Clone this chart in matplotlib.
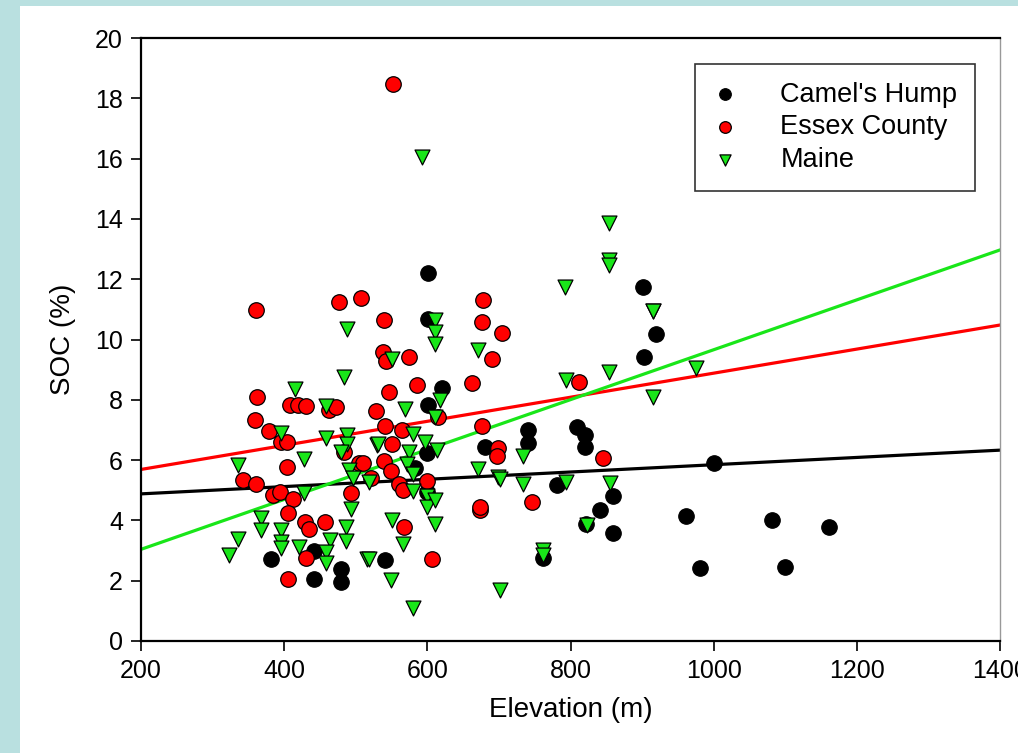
import matplotlib
matplotlib.use("Agg")
import matplotlib.pyplot as plt
from matplotlib.patches import Rectangle

plt.rcParams["font.family"] = ["Liberation Sans", "DejaVu Sans"]

# Camel's Hump
ch_elev = [381, 441, 441, 480, 480, 541, 583, 600, 600, 601, 601, 601, 620, 681,
           741, 741, 761, 781, 809, 820, 820, 821, 841, 860, 860, 901, 903, 920,
           961, 981, 1000, 1081, 1100, 1161]
ch_soc = [2.72, 3.0, 2.06, 2.38, 1.95, 2.69, 5.75, 6.25, 4.95, 7.83, 10.67, 12.2,
          8.38, 6.44, 7.0, 6.56, 2.74, 5.17, 7.1, 6.83, 6.45, 3.88, 4.34, 4.8,
          3.59, 11.75, 9.43, 10.18, 4.15, 2.41, 5.91, 4.01, 2.44, 3.79]

# Essex County
ec_elev = [552, 360, 477, 507, 539, 538, 542, 575, 691, 678, 676, 704, 362, 408,
           419, 431, 462, 472, 528, 547, 585, 663, 812, 359, 379, 396, 404, 541,
           564, 615, 677, 550, 483, 505, 539, 510, 549, 560, 566, 600, 522, 699,
           698, 845, 404, 343, 361, 384, 394, 412, 494, 406, 429, 435, 457, 746,
           674, 674, 567, 430, 606, 405]
ec_soc = [18.47, 10.97, 11.26, 11.37, 10.65, 9.58, 9.28, 9.43, 9.35, 11.32, 10.58,
          10.22, 8.09, 7.82, 7.83, 7.8, 7.65, 7.77, 7.64, 8.27, 8.49, 8.56, 8.6,
          7.33, 6.97, 6.6, 6.6, 7.14, 6.99, 7.43, 7.14, 6.55, 6.28, 5.9, 5.98,
          5.89, 5.63, 5.21, 5.02, 5.32, 5.4, 6.39, 6.15, 6.06, 5.77, 5.35, 5.22,
          4.84, 4.93, 4.71, 4.92, 4.23, 3.96, 3.7, 3.96, 4.62, 4.36, 4.45, 3.77,
          2.75, 2.72, 2.06]

# Maine
me_elev = [592, 854, 854, 854, 793, 915, 611, 611, 611, 671, 550, 488, 483, 415,
           458, 396, 458, 488, 488, 479, 530, 428, 336, 491, 496, 519, 428, 494,
           367, 367, 396, 487, 336, 323, 396, 396, 421, 464, 487, 458, 458, 516,
           569, 617, 611, 580, 597, 614, 531, 575, 571, 580, 671, 580, 599, 599,
           611, 611, 550, 566, 519, 549, 580, 699, 702, 733, 733, 702, 761, 761,
           794, 855, 823, 794, 854, 915, 976, 915]
me_soc = [16.04, 13.85, 12.64, 12.46, 11.73, 10.96, 10.65, 10.26, 9.86, 9.65, 9.36,
          10.35, 8.77, 8.35, 7.79, 6.91, 6.73, 6.84, 6.53, 6.28, 6.5, 6.05, 5.85,
          5.66, 5.41, 5.27, 4.9, 4.39, 4.09, 3.68, 3.68, 3.79, 3.37, 2.86, 3.3,
          3.07, 3.11, 3.36, 3.33, 2.95, 2.58, 2.72, 7.71, 7.98, 7.42, 6.85, 6.6,
          6.33, 6.52, 6.26, 5.87, 5.55, 5.71, 4.98, 4.8, 4.44, 4.68, 3.89, 4.0,
          3.22, 2.71, 2.02, 1.11, 5.43, 5.38, 5.22, 6.15, 1.7, 3.03, 2.85, 5.29,
          5.24, 3.86, 8.66, 8.92, 8.1, 9.07, 10.96]

# regression lines read at the axis ends
fit_x = [200, 1400]
ch_fit = [4.88, 6.33]
ec_fit = [5.69, 10.48]
me_fit = [3.04, 12.97]

RED = "#ff0000"
GREEN = "#19e619"
BG = "#b9e0e0"

fig = plt.figure(figsize=(10.18, 7.53), dpi=100, facecolor=BG)
fig.patches.append(Rectangle((20 / 1018, 0), 1, 1 - 6 / 753, transform=fig.transFigure,
                             facecolor="white", edgecolor="none", zorder=-10))
ax = fig.add_axes([141 / 1018, 1 - 641 / 753, 859 / 1018, 603 / 753])
ax.set_facecolor("white")

ax.plot(fit_x, ch_fit, color="black", lw=2.3, zorder=2)
ax.plot(fit_x, ec_fit, color=RED, lw=2.3, zorder=2)
ax.plot(fit_x, me_fit, color=GREEN, lw=2.3, zorder=2)

ax.scatter(ch_elev, ch_soc, s=125, c="black", edgecolors="black", linewidths=0.8,
           zorder=3, label="Camel's Hump")
ax.scatter(ec_elev, ec_soc, s=125, c=RED, edgecolors="black", linewidths=0.9,
           zorder=4, label="Essex County")
ax.scatter(me_elev, me_soc, s=115, c=GREEN, marker="v", edgecolors="black",
           linewidths=0.9, zorder=5, label="Maine")

ax.set_xlim(200, 1400)
ax.set_ylim(0, 20)
ax.set_xticks(range(200, 1401, 200))
ax.set_yticks(range(0, 21, 2))
ax.tick_params(axis="both", direction="out", length=7, width=1.2, labelsize=18, pad=6)
for side in ["left", "bottom", "top"]:
    ax.spines[side].set_linewidth(1.6)
ax.spines["right"].set_color("#999999")
ax.spines["right"].set_linewidth(1.0)

ax.set_xlabel("Elevation (m)", fontsize=20, labelpad=10)
ax.set_ylabel("SOC (%)", fontsize=20, labelpad=14)

leg = ax.legend(loc="upper right", bbox_to_anchor=((975 - 141) / 859, (641 - 64) / 603),
                borderaxespad=0, fontsize=19.5, markerscale=0.75, scatterpoints=1,
                frameon=True, fancybox=False, labelspacing=0.25, handletextpad=1.6,
                borderpad=0.65, handlelength=0.9)
leg.get_frame().set_edgecolor("black")
leg.get_frame().set_linewidth(1.2)

fig.savefig("out.png", dpi=100, facecolor=fig.get_facecolor())
